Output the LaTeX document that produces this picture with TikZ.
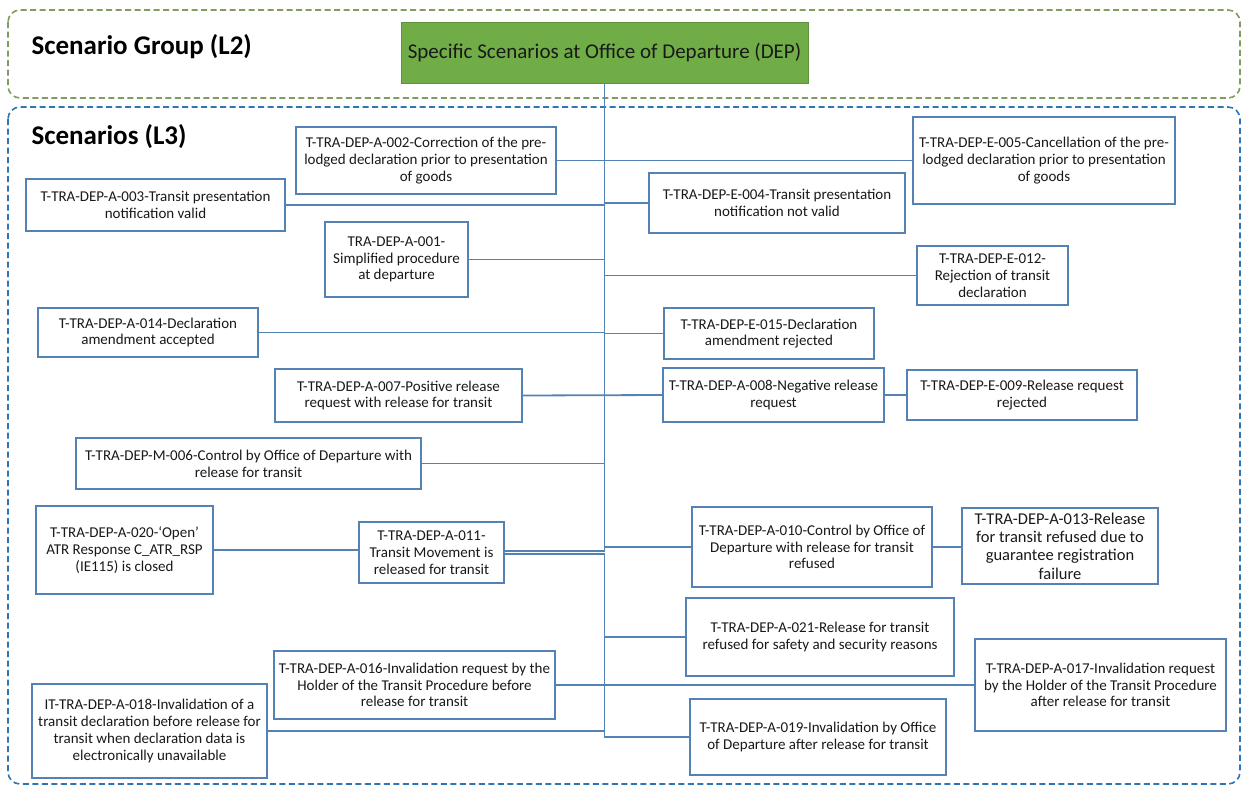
\documentclass[tikz,border=0pt]{standalone}
\usepackage{fontspec}
\setmainfont{Carlito}
\usetikzlibrary{positioning}
\definecolor{boxline}{RGB}{84,130,180}
\definecolor{groupgreen}{RGB}{130,155,95}
\definecolor{groupblue}{RGB}{46,117,182}
\definecolor{headfill}{RGB}{112,173,71}
\definecolor{textgray}{RGB}{25,25,25}

\begin{document}
\begin{tikzpicture}[x=1pt,y=-1pt,
    scen/.style={draw=boxline, line width=1.8pt, fill=white, align=center, inner sep=1pt,
        text=textgray, font=\fontsize{15}{16.7}\selectfont},
    link/.style={draw=boxline, line width=1.8pt},
    frame/.style={dash pattern=on 6pt off 3.5pt, line width=1.6pt, rounded corners=12pt},
    grouptitle/.style={anchor=west, font=\fontsize{27}{30}\selectfont\bfseries},
    headbox/.style={fill=headfill, draw=headfill!85!black, line width=0.6pt, text=textgray,
        font=\fontsize{21}{24}\selectfont}]
    \useasboundingbox (0,0) rectangle (1245,787);

    % Frames
    \draw[frame, groupgreen] (8,10) rectangle (1240,98);
    \draw[frame, groupblue] (8,107) rectangle (1240,784);
    \node[grouptitle] (grouptitle) at (28,47) {Scenario Group (L2)};
    \node[grouptitle] (scentitle) at (28,137) {Scenarios (L3)};

    % Head
    \node[headbox, minimum width=407, minimum height=61] (dep) at (604.5,52.5) {Specific Scenarios at Office of Departure (DEP)};
    \coordinate (trunk) at (dep.south);

    % Scenarios, left of the trunk
    \node[scen, minimum width=260, minimum height=67] (a002) at (426,160.5) {T-TRA-DEP-A-002-Correction of the pre-\\lodged declaration prior to presentation\\of goods};
    \node[scen, minimum width=259, minimum height=52] (a003) at (155.5,205) {T-TRA-DEP-A-003-Transit presentation\\notification valid};
    \node[scen, minimum width=143, minimum height=75] (a001) at (396.5,259.5) {TRA-DEP-A-001-\\Simplified procedure\\at departure};
    \node[scen, minimum width=220, minimum height=49] (a014) at (148,332.5) {T-TRA-DEP-A-014-Declaration\\amendment accepted};
    \node[scen, minimum width=247, minimum height=53] (a007) at (398.5,395.5) {T-TRA-DEP-A-007-Positive release\\request with release for transit};
    \node[scen, minimum width=345, minimum height=51] (m006) at (248.5,463.5) {T-TRA-DEP-M-006-Control by Office of Departure with\\release for transit};
    \node[scen, minimum width=177, minimum height=88] (a020) at (124.5,550) {T-TRA-DEP-A-020-‘Open’\\ATR Response C\_ATR\_RSP\\(IE115) is closed};
    \node[scen, minimum width=145, minimum height=61] (a011) at (431.5,552.5) {T-TRA-DEP-A-011-\\Transit Movement is\\released for transit};
    \node[scen, minimum width=281, minimum height=68] (a016) at (414.5,685) {T-TRA-DEP-A-016-Invalidation request by the\\Holder of the Transit Procedure before\\release for transit};
    \node[scen, minimum width=235, minimum height=94] (a018) at (149.5,731) {IT-TRA-DEP-A-018-Invalidation of a\\transit declaration before release for\\transit when declaration data is\\electronically unavailable};

    % Scenarios, right of the trunk
    \node[scen, minimum width=262, minimum height=87] (e005) at (1044,160.5) {T-TRA-DEP-E-005-Cancellation of the pre-\\lodged declaration prior to presentation\\of goods};
    \node[scen, minimum width=256, minimum height=60] (e004) at (777,203) {T-TRA-DEP-E-004-Transit presentation\\notification not valid};
    \node[scen, minimum width=151, minimum height=59] (e012) at (992.5,275.5) {T-TRA-DEP-E-012-\\Rejection of transit\\declaration};
    \node[scen, minimum width=210, minimum height=51] (e015) at (769,333.5) {T-TRA-DEP-E-015-Declaration\\amendment rejected};
    \node[scen, minimum width=221, minimum height=54] (a008) at (773.5,395) {T-TRA-DEP-A-008-Negative release\\request};
    \node[scen, minimum width=230, minimum height=50] (e009) at (1022,395) {T-TRA-DEP-E-009-Release request\\rejected};
    \node[scen, minimum width=240, minimum height=80] (a010) at (812,547) {T-TRA-DEP-A-010-Control by Office of\\Departure with release for transit\\refused};
    \node[scen, minimum width=196, minimum height=76, font=\fontsize{16.5}{18.3}\selectfont] (a013) at (1060,546) {T-TRA-DEP-A-013-Release\\for transit refused due to\\guarantee registration\\failure};
    \node[scen, minimum width=268, minimum height=78] (a021) at (820,637) {T-TRA-DEP-A-021-Release for transit\\refused for safety and security reasons};
    \node[scen, minimum width=251, minimum height=92] (a017) at (1100.5,685) {T-TRA-DEP-A-017-Invalidation request\\by the Holder of the Transit Procedure\\after release for transit};
    \node[scen, minimum width=256, minimum height=76] (a019) at (818,737) {T-TRA-DEP-A-019-Invalidation by Office\\of Departure after release for transit};

    % Connectors
    \draw[link] (trunk) -- (trunk |- a019.west) -- (a019.west);
    \draw[link] (a002.east) -- (e005.west);
    \draw[link] (a003.east) -- (a003.east -| trunk);
    \draw[link] (trunk |- e004.west) -- (e004.west);
    \draw[link] (a001.east) -- (a001.east -| trunk);
    \draw[link] (trunk |- e012.west) -- (e012.west);
    \draw[link] (a014.east) -- (a014.east -| trunk);
    \draw[link] (trunk |- e015.west) -- (e015.west);
    \draw[link] (a007.east) -- (a008.west);
    \draw[link] (a008.east) -- (e009.west);
    \draw[link] (m006.east) -- (m006.east -| trunk);
    \draw[link] (a020.east) -- (a020.east -| a011.west);
    \draw[link, double=white, double distance=1.6pt, line width=1.6pt] (a011.east) -- (a011.east -| trunk);
    \draw[link] (trunk |- a010.west) -- (a010.west);
    \draw[link] (a010.east) -- (a010.east -| a013.west);
    \draw[link] (trunk |- a021.west) -- (a021.west);
    \draw[link] (a016.east) -- (a017.west);
    \draw[link] (a018.east) -- (a018.east -| trunk);
\end{tikzpicture}
\end{document}
